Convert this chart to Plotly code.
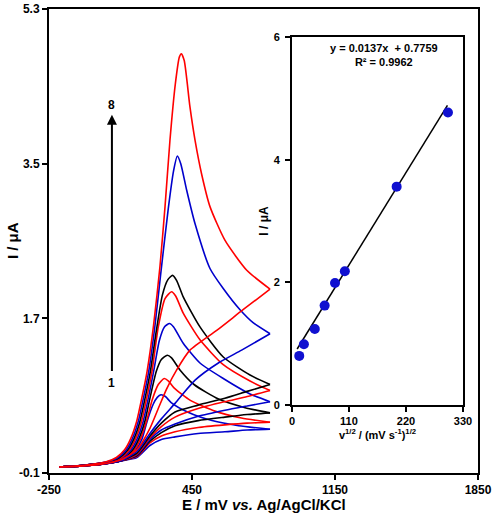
import plotly.graph_objects as go

# ---------- main chart data (E / mV, I / uA) ----------
colors = ["#0000cc", "#ff0000", "#000000", "#0000cc", "#ff0000", "#000000", "#0000cc", "#ff0000"]

up_x = [
    [-200, -120, -40, 80, 136, 176, 206, 230, 260, 280, 298, 320, 348, 428, 548, 678, 832],
    [-200, -120, -40, 72, 128, 168, 198, 227, 255, 285, 314, 335, 362, 442, 562, 692, 832],
    [-200, -120, -40, 64, 120, 160, 190, 219, 245, 275, 300, 329, 350, 391, 460, 580, 710, 832],
    [-200, -120, -40, 56, 112, 152, 182, 211, 237, 262, 290, 315, 340, 360, 407, 489, 603, 734, 832],
    [-200, -120, -40, 48, 104, 144, 174, 203, 229, 254, 285, 318, 350, 370, 407, 489, 603, 734, 832],
    [-200, -120, -40, 40, 96, 136, 166, 195, 221, 246, 275, 305, 332, 355, 375, 407, 489, 603, 734, 832],
    [-200, -120, -40, 35, 88, 128, 158, 187, 213, 238, 268, 297, 334, 360, 378, 395, 424, 465, 538, 602, 685, 749, 832],
    [-200, -120, -40, 30, 80, 120, 150, 179, 205, 230, 262, 293, 318, 342, 368, 388, 398, 412, 440, 465, 497, 538, 611, 718, 832],
]
up_y = [
    [-0.03, -0.02, 0.0, 0.03, 0.08, 0.17, 0.30, 0.50, 0.70, 0.78, 0.81, 0.79, 0.72, 0.61, 0.51, 0.45, 0.41],
    [-0.03, -0.02, 0.0, 0.03, 0.08, 0.17, 0.30, 0.50, 0.75, 0.93, 1.00, 0.97, 0.89, 0.745, 0.62, 0.54, 0.49],
    [-0.03, -0.02, 0.0, 0.03, 0.08, 0.17, 0.30, 0.50, 0.78, 1.08, 1.22, 1.27, 1.24, 1.10, 0.93, 0.76, 0.66, 0.60],
    [-0.03, -0.02, 0.0, 0.03, 0.08, 0.17, 0.30, 0.50, 0.78, 1.08, 1.44, 1.60, 1.64, 1.60, 1.41, 1.18, 1.00, 0.82, 0.73],
    [-0.03, -0.02, 0.0, 0.03, 0.08, 0.17, 0.30, 0.50, 0.78, 1.08, 1.60, 1.93, 2.01, 1.96, 1.76, 1.45, 1.16, 0.97, 0.86],
    [-0.03, -0.02, 0.0, 0.03, 0.08, 0.17, 0.30, 0.50, 0.78, 1.08, 1.55, 1.97, 2.15, 2.20, 2.14, 1.95, 1.60, 1.25, 1.04, 0.93],
    [-0.03, -0.02, 0.0, 0.03, 0.08, 0.17, 0.30, 0.50, 0.78, 1.08, 1.60, 2.22, 2.98, 3.42, 3.59, 3.50, 3.19, 2.80, 2.28, 2.05, 1.80, 1.65, 1.52],
    [-0.03, -0.02, 0.0, 0.03, 0.08, 0.17, 0.30, 0.50, 0.78, 1.08, 1.62, 2.30, 3.00, 3.77, 4.42, 4.74, 4.78, 4.70, 4.16, 3.77, 3.38, 3.00, 2.61, 2.26, 2.04],
]
low_x = [
    [-200, -100, 0, 100, 180, 244, 300, 367, 480, 611, 720, 832],
    [-200, -100, 0, 100, 180, 244, 300, 367, 480, 611, 720, 832],
    [-200, -100, 0, 100, 180, 244, 300, 367, 480, 611, 720, 832],
    [-200, -100, 0, 100, 180, 244, 300, 367, 480, 611, 720, 832],
    [-200, -100, 0, 100, 180, 244, 300, 367, 480, 611, 720, 832],
    [-200, -100, 0, 100, 180, 244, 300, 367, 480, 611, 720, 832],
    [-200, -100, 0, 100, 180, 244, 300, 367, 465, 579, 693, 832],
    [-200, -100, 0, 100, 180, 244, 290, 326, 375, 440, 571, 700, 832],
]
low_y = [
    [-0.03, -0.02, 0.0, 0.04, 0.08, 0.22, 0.29, 0.32, 0.36, 0.38, 0.40, 0.41],
    [-0.03, -0.02, 0.0, 0.04, 0.09, 0.25, 0.33, 0.38, 0.43, 0.46, 0.48, 0.49],
    [-0.03, -0.02, 0.0, 0.04, 0.10, 0.27, 0.37, 0.45, 0.51, 0.55, 0.58, 0.60],
    [-0.03, -0.02, 0.0, 0.04, 0.11, 0.29, 0.40, 0.47, 0.56, 0.63, 0.68, 0.73],
    [-0.03, -0.02, 0.0, 0.04, 0.12, 0.31, 0.44, 0.55, 0.65, 0.73, 0.79, 0.86],
    [-0.03, -0.02, 0.0, 0.04, 0.13, 0.33, 0.48, 0.61, 0.69, 0.77, 0.85, 0.93],
    [-0.03, -0.02, 0.0, 0.04, 0.15, 0.36, 0.53, 0.71, 0.98, 1.18, 1.33, 1.52],
    [-0.03, -0.02, 0.0, 0.05, 0.17, 0.42, 0.68, 0.88, 1.10, 1.33, 1.56, 1.80, 2.04],
]

# ---------- inset data ----------
sqrt_v = [14, 23, 44, 63, 83, 102, 202, 301]
peak_i = [0.80, 0.99, 1.24, 1.62, 1.99, 2.18, 3.56, 4.77]
fit_slope = 0.0137
fit_intercept = 0.7759
fit_x = [10, 300]
fit_y = [fit_intercept + fit_slope * v for v in fit_x]

main_xticks = [-250, 450, 1150, 1850]
main_yticks = [-0.1, 1.7, 3.5, 5.3]
inset_xticks = [0, 110, 220, 330]
inset_yticks = [0, 2, 4, 6]

FONT = "Liberation Sans, Arial, sans-serif"
NARROW = "Liberation Sans Narrow, Arial Narrow, Liberation Sans, sans-serif"

fig = go.Figure()
for k in range(8):
    fig.add_trace(go.Scatter(x=up_x[k], y=up_y[k], mode="lines",
                             line=dict(color=colors[k], width=1.6, shape="spline", smoothing=0.6),
                             showlegend=False, xaxis="x", yaxis="y"))
    fig.add_trace(go.Scatter(x=low_x[k], y=low_y[k], mode="lines",
                             line=dict(color=colors[k], width=1.6, shape="spline", smoothing=0.6),
                             showlegend=False, xaxis="x", yaxis="y"))

fig.add_trace(go.Scatter(x=fit_x, y=fit_y, mode="lines", line=dict(color="black", width=1.5),
                         showlegend=False, xaxis="x2", yaxis="y2"))
fig.add_trace(go.Scatter(x=sqrt_v, y=peak_i, mode="markers",
                         marker=dict(color="#1010d0", size=10),
                         showlegend=False, xaxis="x2", yaxis="y2"))

ax_common = dict(showline=True, linecolor="black", linewidth=2, mirror=True,
                 ticks="outside", ticklen=5, tickwidth=1.5, tickcolor="black",
                 showgrid=False, zeroline=False, automargin=False)

fig.update_layout(
    width=496, height=516,
    margin=dict(l=49, r=18, t=9, b=43),
    paper_bgcolor="white", plot_bgcolor="white",
    xaxis=dict(**ax_common, range=[-250, 1850], tickvals=main_xticks,
               ticktext=[str(v) for v in main_xticks],
               tickfont=dict(family=FONT, size=12, color="black", weight="bold")),
    yaxis=dict(**ax_common, range=[-0.1, 5.3], tickvals=main_yticks,
               ticktext=[f"{v:.1f}" for v in main_yticks],
               tickfont=dict(family=FONT, size=12, color="black", weight="bold")),
    xaxis2=dict(**ax_common, domain=[0.5664, 0.965], anchor="y2", range=[0, 330],
                tickvals=inset_xticks, ticktext=[str(v) for v in inset_xticks],
                tickfont=dict(family=NARROW, size=11, color="black", weight="bold"),
                title=dict(text="v<sup>1/2</sup> / (mV s<sup>-1</sup>)<sup>1/2</sup>",
                           font=dict(family=FONT, size=11, color="black", weight="bold"),
                           standoff=4)),
    yaxis2=dict(**ax_common, domain=[0.1466, 0.9397], anchor="x2", range=[0, 6],
                tickvals=inset_yticks, ticktext=[str(v) for v in inset_yticks],
                ticklabelstandoff=3,
                tickfont=dict(family=NARROW, size=11, color="black", weight="bold"),
                title=dict(text="I / μA",
                           font=dict(family=FONT, size=12, color="black", weight="bold"),
                           standoff=2)),
)

# main axis titles
fig.add_annotation(x=0.5, y=-0.068, xref="paper", yref="paper", yanchor="middle",
                   text="E / mV <i>vs.</i> Ag/AgCl/KCl", showarrow=False,
                   font=dict(family=FONT, size=15, color="black", weight="bold"))
fig.add_annotation(x=-0.086, y=0.5, xref="paper", yref="paper", xanchor="center",
                   yanchor="middle", textangle=-90, text="I / μA", showarrow=False,
                   font=dict(family=FONT, size=15, color="black", weight="bold"))

fig.add_annotation(x=58, y=4.07, ax=58, ay=1.07, xref="x", yref="y", axref="x", ayref="y",
                   text="", showarrow=True, arrowhead=2, arrowsize=1, arrowwidth=2,
                   arrowcolor="black", standoff=0, startstandoff=0)
fig.add_annotation(x=58, y=4.18, xref="x", yref="y", text="8", showarrow=False,
                   font=dict(family=FONT, size=12, color="black", weight="bold"))
fig.add_annotation(x=58, y=0.95, xref="x", yref="y", text="1", showarrow=False,
                   font=dict(family=FONT, size=12, color="black", weight="bold"))
fig.add_annotation(x=178, y=5.70, xref="x2", yref="y2",
                   text="y = 0.0137x  + 0.7759<br>R² = 0.9962", showarrow=False,
                   align="center",
                   font=dict(family=NARROW, size=11, color="black", weight="bold"))

fig.write_html("out.html")
